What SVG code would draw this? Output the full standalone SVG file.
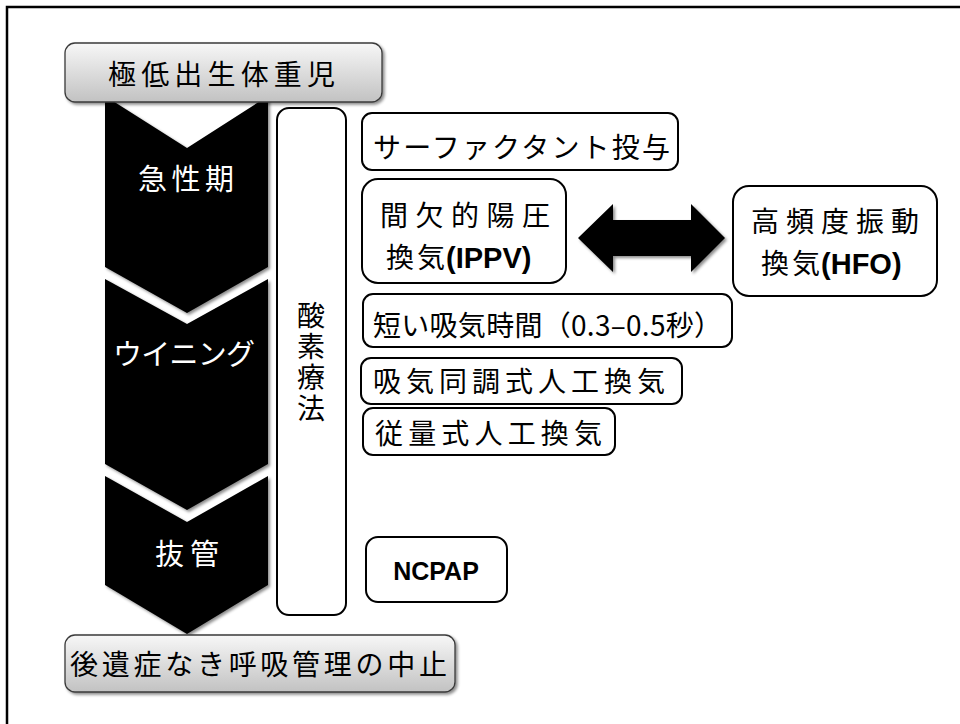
<svg xmlns="http://www.w3.org/2000/svg" width="960" height="724" viewBox="0 0 960 724">
<defs>
<linearGradient id="grey" x1="0" y1="0" x2="0" y2="1">
<stop offset="0" stop-color="#f7f7f7"/>
<stop offset="1" stop-color="#c2c2c2"/>
</linearGradient>
<filter id="sh" x="-10%" y="-10%" width="120%" height="120%">
<feDropShadow dx="2" dy="2" stdDeviation="1.4" flood-color="#000" flood-opacity="0.45"/>
</filter>
</defs>
<style>
.jp{font-family:"Noto Sans CJK JP","Noto Sans",sans-serif;font-size:28px;fill:#000}
.wt{fill:#fff;font-size:29px}
.lat{font-family:"Liberation Sans","Noto Sans",sans-serif;font-weight:bold}
.box{fill:#fff;stroke:#000;stroke-width:2}
.gbox{fill:url(#grey);stroke:#3a3a3a;stroke-width:1.3;filter:url(#sh)}
.chev{fill:#000;filter:url(#sh)}
</style>
<rect width="960" height="724" fill="#fff"/>
<path d="M7,724 V7 H960" fill="none" stroke="#000" stroke-width="2.5"/>

<g id="connectors">
<polygon points="578,238 613,204 613,220 691,220 691,204 725,238 691,272 691,256 613,256 613,272" fill="#000" filter="url(#sh)"/>
</g>

<g id="chevron-acute">
<path class="chev" d="M105,96 L187,148 L268,96 L268,267 L187,313 L105,267 Z"/>
<text class="jp wt" x="138" y="190" textLength="96">急性期</text>
</g>
<g id="chevron-weaning">
<path class="chev" d="M105,279 L187,324 L268,279 L268,464 L187,510 L105,464 Z"/>
<text class="jp wt" x="113" y="365" textLength="142">ウイニング</text>
</g>
<g id="chevron-extubation">
<path class="chev" d="M105,476 L187,522 L268,476 L268,585 L187,634 L105,585 Z"/>
<text class="jp wt" x="155" y="565" textLength="64">抜管</text>
</g>

<g id="start">
<rect class="gbox" x="65" y="43" width="317" height="59" rx="10"/>
<text class="jp" x="108" y="85" font-size="29" textLength="227">極低出生体重児</text>
</g>

<g id="end">
<rect class="gbox" x="65" y="635" width="390" height="57" rx="10"/>
<text class="jp" x="70" y="675" font-size="29" textLength="377">後遺症なき呼吸管理の中止</text>
</g>

<g id="oxygen">
<rect class="box" x="277" y="108" width="69" height="507" rx="12"/>
<text class="jp" x="311" y="301" writing-mode="vertical-rl" font-size="28" letter-spacing="3">酸素療法</text>
</g>

<g id="surfactant">
<rect class="box" x="362" y="113" width="316" height="57" rx="10"/>
<text class="jp" x="373" y="158" font-size="27" textLength="297">サーファクタント投与</text>
</g>

<g id="ippv">
<rect class="box" x="362" y="179" width="204" height="104" rx="16"/>
<text class="jp" x="380" y="226" font-size="30" textLength="170">間欠的陽圧</text>
<text class="jp" x="386" y="268" font-size="30">換<tspan dx="3">気</tspan><tspan class="lat" dx="1" font-size="29">(IPPV)</tspan></text>
</g>

<g id="hfo">
<rect class="box" x="733" y="186" width="204" height="110" rx="16"/>
<text class="jp" x="751" y="232" font-size="30" textLength="168">高頻度振動</text>
<text class="jp" x="761" y="274" font-size="30">換<tspan dx="3">気</tspan><tspan class="lat" dx="1" font-size="29">(HFO)</tspan></text>
</g>

<g id="short-inspiration">
<rect class="box" x="363" y="294" width="369" height="53" rx="10"/>
<text class="jp" x="373" y="336" textLength="349">短い吸気時間（0.3–0.5秒）</text>
</g>

<g id="synchronized">
<rect class="box" x="361" y="358" width="321" height="46" rx="10"/>
<text class="jp" x="373" y="392" textLength="292">吸気同調式人工換気</text>
</g>

<g id="volume">
<rect class="box" x="363" y="408" width="252" height="47" rx="10"/>
<text class="jp" x="375" y="444" textLength="227">従量式人工換気</text>
</g>

<g id="ncpap">
<rect class="box" x="366" y="537" width="141" height="65" rx="12"/>
<text class="lat" x="436" y="580" text-anchor="middle" font-size="25">NCPAP</text>
</g>
</svg>
